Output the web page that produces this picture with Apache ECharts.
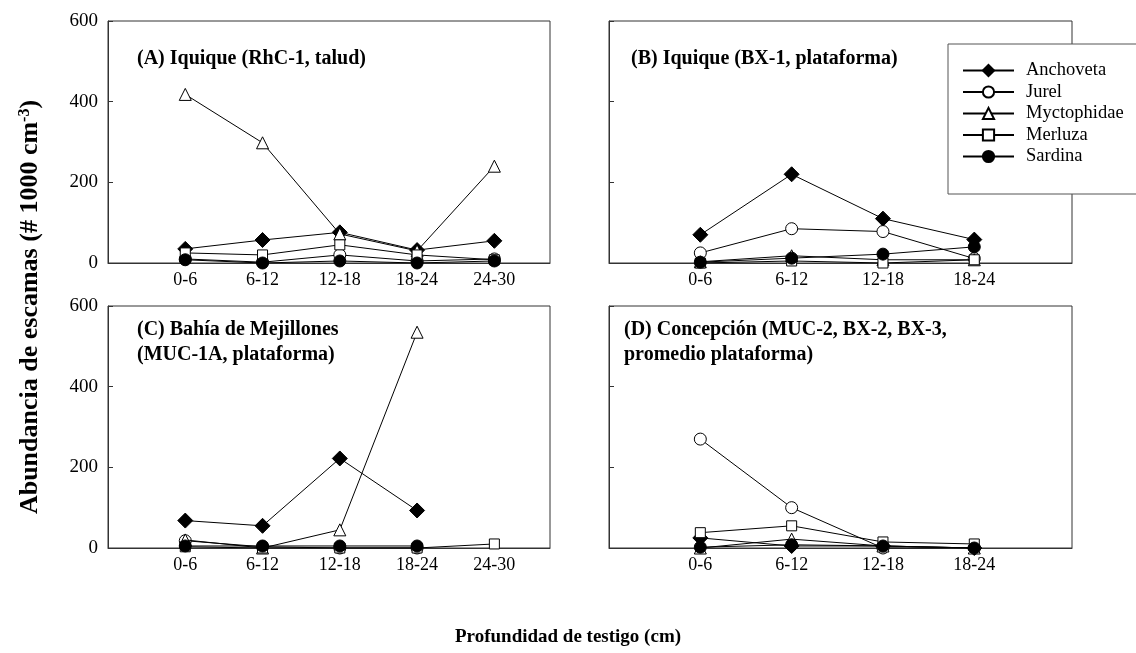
<!DOCTYPE html>
<html>
<head>
<meta charset="utf-8">
<script src="https://cdn.jsdelivr.net/npm/echarts@6/dist/echarts.min.js"></script>
<style>
  html, body { margin: 0; padding: 0; background: #fff; }
  #chart { width: 1136px; height: 653px; }
</style>
</head>
<body>
<div id="chart"></div>
<script>
// Depth intervals of the cores (cm)
const depthLabels = ['0-6', '6-12', '12-18', '18-24', '24-30'];
const yTicks = [0, 200, 400, 600];
const speciesNames = ['Anchoveta', 'Jurel', 'Myctophidae', 'Merluza', 'Sardina'];

// (A) Iquique RhC-1, talud
const anchovetaA   = [35, 57, 76, 32, 55];
const jurelA       = [10, 2, 20, 5, 10];
const myctophidaeA = [418, 298, 72, 30, 240];
const merluzaA     = [25, 20, 45, 20, 8];
const sardinaA     = [8, 0, 5, 0, 5];

// (B) Iquique BX-1, plataforma
const anchovetaB   = [70, 220, 110, 58];
const jurelB       = [25, 85, 78, 11];
const myctophidaeB = [3, 18, 8, 8];
const merluzaB     = [0, 5, 0, 8];
const sardinaB     = [2, 12, 22, 40];

// (C) Bahía de Mejillones MUC-1A, plataforma
const anchovetaC   = [68, 55, 222, 93];
const jurelC       = [18, 3, 0, 0];
const myctophidaeC = [20, 0, 45, 535];
const merluzaC     = [3, 0, 0, 0, 10];
const sardinaC     = [5, 5, 5, 5];

// (D) Concepción, promedio plataforma
const anchovetaD   = [25, 5, 5, 0];
const jurelD       = [270, 100, 0, 0];
const myctophidaeD = [0, 22, 5, 0];
const merluzaD     = [38, 55, 15, 10];
const sardinaD     = [2, 8, 5, 0];

const panelTitles = [
  '(A) Iquique (RhC-1, talud)',
  '(B) Iquique (BX-1, plataforma)',
  '(C) Bahía de Mejillones\n(MUC-1A, plataforma)',
  '(D) Concepción (MUC-2, BX-2, BX-3,\npromedio plataforma)'
];

const SERIF = 'Liberation Serif';
const AXIS_COLOR = '#333';

const panels = [
  { grid: { left: 108, top: 21, width: 442, height: 242 }, xMax: 5.72, nCat: 5, showY: true,
    data: [anchovetaA, jurelA, myctophidaeA, merluzaA, sardinaA],
    title: { left: 137, top: 46 } },
  { grid: { left: 609, top: 21, width: 463, height: 242 }, xMax: 5.07, nCat: 4, showY: false,
    data: [anchovetaB, jurelB, myctophidaeB, merluzaB, sardinaB],
    title: { left: 631, top: 46 } },
  { grid: { left: 108, top: 306, width: 442, height: 242 }, xMax: 5.72, nCat: 5, showY: true,
    data: [anchovetaC, jurelC, myctophidaeC, merluzaC, sardinaC],
    title: { left: 137, top: 317 } },
  { grid: { left: 609, top: 306, width: 463, height: 242 }, xMax: 5.07, nCat: 4, showY: false,
    data: [anchovetaD, jurelD, myctophidaeD, merluzaD, sardinaD],
    title: { left: 624, top: 317 } }
];

// marker style of each species
const markers = [
  { symbol: 'diamond', symbolSize: 15, fill: '#000' },
  { symbol: 'circle',  symbolSize: 12, fill: '#fff' },
  { symbol: 'triangle', symbolSize: 12, fill: '#fff' },
  { symbol: 'rect',    symbolSize: 10, fill: '#fff' },
  { symbol: 'circle',  symbolSize: 12, fill: '#000' }
];

const grids = [], xAxes = [], yAxes = [], series = [], titles = [];

panels.forEach((p, gi) => {
  grids.push(Object.assign({ show: true, borderColor: AXIS_COLOR, borderWidth: 1,
    backgroundColor: 'transparent' }, p.grid));
  xAxes.push({
    type: 'value', gridIndex: gi, min: 0, max: p.xMax, interval: 1,
    axisLine: { show: true, lineStyle: { color: AXIS_COLOR, width: 1 } },
    axisTick: { show: false },
    splitLine: { show: false },
    axisLabel: {
      margin: 8, color: '#000', fontFamily: SERIF, fontSize: 18,
      showMinLabel: false, showMaxLabel: false,
      formatter: v => (Number.isInteger(v) && v >= 1 && v <= p.nCat) ? depthLabels[v - 1] : ''
    }
  });
  yAxes.push({
    type: 'value', gridIndex: gi, min: yTicks[0], max: yTicks[yTicks.length - 1], interval: 200,
    axisLine: { show: true, lineStyle: { color: AXIS_COLOR, width: 1 } },
    axisTick: { show: true, inside: true, length: 5, lineStyle: { color: AXIS_COLOR } },
    splitLine: { show: false },
    axisLabel: {
      show: p.showY, margin: 10, color: '#000', fontFamily: SERIF, fontSize: 19
    }
  });
  titles.push({
    text: panelTitles[gi], left: p.title.left, top: p.title.top, padding: 0,
    textStyle: { fontFamily: SERIF, fontWeight: 'bold', fontSize: 20, color: '#000', lineHeight: 25 }
  });
  p.data.forEach((vals, si) => {
    const m = markers[si];
    series.push({
      type: 'line', name: speciesNames[si], xAxisIndex: gi, yAxisIndex: gi,
      data: vals.map((v, i) => [i + 1, v]),
      symbol: m.symbol, symbolSize: m.symbolSize, showAllSymbol: true,
      itemStyle: { color: m.fill, borderColor: '#000', borderWidth: 1, opacity: 1 },
      lineStyle: { color: '#000', width: 1 },
      emphasis: { disabled: true },
      animation: false,
      z: 2 + si
    });
  });
});

const chart = echarts.init(document.getElementById('chart'), null, { renderer: 'canvas' });
chart.setOption({
  backgroundColor: '#fff',
  animation: false,
  title: titles,
  grid: grids,
  xAxis: xAxes,
  yAxis: yAxes,
  series: series,
  legend: {
    data: speciesNames, orient: 'vertical', left: 948, top: 44,
    itemWidth: 51, itemHeight: 14, itemGap: 2.5,
    padding: [17, 30, 28, 14],
    backgroundColor: '#fff', borderColor: '#555', borderWidth: 1,
    selectedMode: false,
    textStyle: { fontFamily: SERIF, fontSize: 18.5, color: '#000', padding: [0, 0, 0, 7] }
  },
  graphic: [
    {
      type: 'text', x: 30, y: 307, rotation: Math.PI / 2,
      style: {
        text: '{a|Abundancia de escamas (# 1000 cm}{s|-3}{a|)}',
        align: 'center', verticalAlign: 'middle',
        rich: {
          a: { fontFamily: SERIF, fontWeight: 'bold', fontSize: 26, fill: '#000' },
          s: { fontFamily: SERIF, fontWeight: 'bold', fontSize: 16, fill: '#000', verticalAlign: 'top', padding: [0, 0, 10, 0] }
        }
      }
    },
    {
      type: 'text', x: 568, y: 637,
      style: {
        text: 'Profundidad de testigo (cm)', align: 'center', verticalAlign: 'middle',
        fontFamily: SERIF, fontWeight: 'bold', fontSize: 19, fill: '#000'
      }
    }
  ]
});
</script>
</body>
</html>
